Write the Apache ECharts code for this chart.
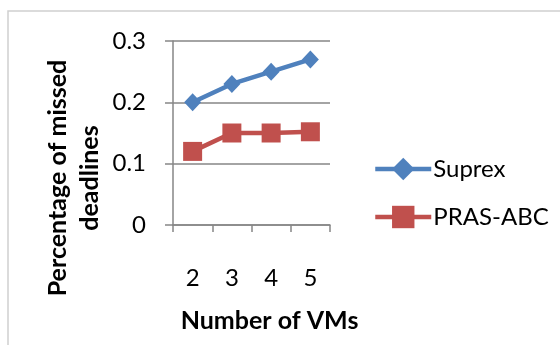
<!DOCTYPE html>
<html><head><meta charset="utf-8">
<script src="https://cdn.jsdelivr.net/npm/echarts@6/dist/echarts.min.js"></script>
<style>html,body{margin:0;padding:0;background:#fff}#c{width:560px;height:345px}</style>
</head><body><div id="c"></div>
<script>
const categories = ['2', '3', '4', '5'];
const suprex = [0.20, 0.23, 0.25, 0.27];
const prasAbc = [0.12, 0.15, 0.15, 0.152];
const yTicks = [0, 0.1, 0.2, 0.3];

const FONT = 'Lato';
const chart = echarts.init(document.getElementById('c'));
chart.setOption({
  animation: false,
  backgroundColor: '#fff',
  graphic: [{
    type: 'rect', shape: {x: 8, y: 11, width: 600, height: 400},
    style: {fill: 'none', stroke: '#d0d0d0', lineWidth: 1.5}, silent: true, z: -1
  }],
  grid: {left: 173, right: 230, top: 41, bottom: 120},
  legend: {
    orient: 'vertical', left: 368, top: 152,
    itemWidth: 56, itemHeight: 28, itemGap: 24,
    lineStyle: {width: 4.5},
    textStyle: {fontFamily: FONT, fontSize: 24, color: '#000', padding: [0, 0, 0, -3]},
    data: ['Suprex', 'PRAS-ABC']
  },
  xAxis: {
    type: 'category', data: categories, boundaryGap: true,
    name: 'Number of VMs', nameLocation: 'middle', nameGap: 83,
    nameTextStyle: {fontFamily: FONT, fontSize: 25, fontWeight: 'bold', color: '#000', padding: [0, 0, 0, 36]},
    axisLine: {lineStyle: {color: '#868686', width: 1.5}},
    axisTick: {show: true, length: 7, lineStyle: {color: '#868686', width: 1.5}},
    axisLabel: {fontFamily: FONT, fontSize: 24, color: '#000', margin: 41}
  },
  yAxis: {
    type: 'value', min: 0, max: 0.3, interval: 0.1,
    name: 'Percentage of missed\ndeadlines', nameLocation: 'middle', nameGap: 67, nameRotate: 90,
    nameTextStyle: {fontFamily: FONT, fontSize: 25, fontWeight: 'bold', color: '#000', lineHeight: 32, padding: [0, 0, 0, -90]},
    axisLine: {show: true, lineStyle: {color: '#868686', width: 1.5}},
    axisTick: {show: true, length: 8, lineStyle: {color: '#868686', width: 1.5}},
    splitLine: {lineStyle: {color: '#868686', width: 1.5}},
    axisLabel: {fontFamily: FONT, fontSize: 24, color: '#000', margin: 27,
      formatter: v => { const t = yTicks.find(x => Math.abs(x - v) < 1e-9); return t === 0 ? '0' : String(t); }}
  },
  series: [{
    name: 'Suprex', type: 'line', data: suprex,
    symbol: 'diamond', symbolSize: [17, 18],
    lineStyle: {color: '#4F81BD', width: 4.5},
    itemStyle: {color: '#4F81BD'}
  }, {
    name: 'PRAS-ABC', type: 'line', data: prasAbc,
    symbol: 'rect', symbolSize: 19,
    lineStyle: {color: '#C0504D', width: 4.5},
    itemStyle: {color: '#C0504D'}
  }]
});
</script></body></html>
